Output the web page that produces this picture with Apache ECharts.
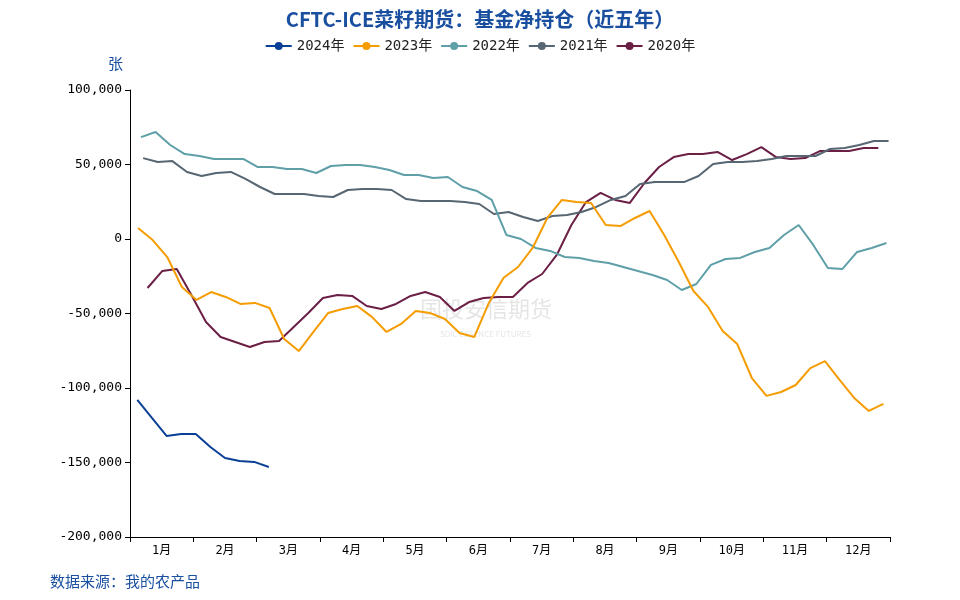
<!DOCTYPE html>
<html>
<head>
<meta charset="utf-8">
<script src="https://cdn.jsdelivr.net/npm/echarts@6/dist/echarts.min.js"></script>
<style>html,body{margin:0;padding:0;background:#fff}#main{width:960px;height:600px}</style>
</head>
<body>
<div id="main"></div>
<script>
const months = ['1月','2月','3月','4月','5月','6月','7月','8月','9月','10月','11月','12月'];
const yearNames = ['2024年','2023年','2022年','2021年','2020年'];
const colors = ['#0a3f96','#f59c00','#5f9fa8','#566672','#6b1f45'];
// first week position (weeks from Jan 1) for each year
const starts = [0.5, 0.55, 0.75, 0.9, 1.2];
const y2024 = [-108000,-120100,-132200,-130800,-130800,-139600,-147000,-149000,-149600,-153000];
const y2023 = [7400,-700,-12100,-32200,-40900,-35600,-38900,-43600,-42900,-46300,-67100,-75200,-62400,-49700,-47000,-45000,-52300,-62400,-57000,-48300,-49700,-53700,-63100,-65800,-42900,-26200,-18800,-6000,14100,26200,24800,24200,9400,8700,14100,18800,2700,-15400,-34900,-45600,-61700,-70500,-93300,-105300,-102700,-98000,-86600,-81900,-94600,-106700,-115400,-110700];
const y2022 = [68400,71800,63100,57000,55700,53700,53700,53700,48300,48300,47000,47000,44300,49000,49700,49700,48300,46300,43000,43000,40900,41600,34900,32200,26200,2700,0,-6000,-8000,-12100,-12700,-14800,-16100,-18800,-21500,-24200,-27500,-34200,-30200,-17400,-13400,-12700,-8700,-6000,2700,9400,-4000,-19500,-20100,-8700,-6000,-2700];
const y2021 = [54300,51700,52300,45000,42300,44300,45000,40300,34900,30200,30200,30200,28900,28200,32900,33600,33600,32900,26800,25500,25500,25500,24800,23500,16800,18100,14800,12100,15400,16100,18100,21500,26200,28900,36900,38200,38200,38200,42300,50300,51700,51700,52300,53700,55700,55700,55700,60400,61100,63100,65800,65800];
const y2020 = [-32900,-21500,-20100,-37600,-55700,-65800,-69100,-72500,-69100,-68400,-59000,-49700,-39600,-37600,-38200,-45000,-47000,-43600,-38200,-35600,-38900,-48300,-42300,-39600,-38900,-38900,-29500,-23500,-10700,9400,24800,30900,26200,24200,37600,48300,55000,57000,57000,58400,53000,57000,61700,55000,53700,54300,59000,59000,59000,61100,61100];
const allData = [y2024, y2023, y2022, y2021, y2020];

const myChart = echarts.init(document.getElementById('main'), null, { renderer: 'canvas' });
const font = '"Noto Sans CJK SC", "Noto Sans", sans-serif';
const mono = '"DejaVu Sans Mono", "Noto Sans CJK SC", monospace';

const series = allData.map((vals, k) => ({
  name: yearNames[k],
  type: 'line',
  xAxisIndex: 1,
  symbol: 'circle',
  symbolSize: 7,
  showSymbol: false,
  lineStyle: { width: 2, color: colors[k] },
  itemStyle: { color: colors[k] },
  z: 10 - k,
  data: vals.map((v, i) => [starts[k] + i, v])
}));

const option = {
  animation: false,
  title: {
    text: 'CFTC-ICE菜籽期货：基金净持仓（近五年）',
    left: 'center',
    top: 4,
    textStyle: { color: '#1a4fa0', fontSize: 20, fontWeight: 'bold', fontFamily: font }
  },
  legend: {
    top: 34,
    left: 'center',
    itemWidth: 26,
    itemHeight: 10,
    itemGap: 8,
    textStyle: { fontSize: 14, color: '#222', fontFamily: mono },
    data: yearNames
  },
  grid: { left: 130, right: 70, top: 90, bottom: 63 },
  graphic: [
    { type: 'text', left: 108, top: 56, style: { text: '张', fill: '#1a4fa0', font: '15px ' + font } },
    { type: 'text', left: 50, top: 574, style: { text: '数据来源：我的农产品', fill: '#1a4fa0', font: '15px ' + font } },
    { type: 'text', left: 420, top: 298, style: { text: '国投安信期货', fill: 'rgba(180,180,180,0.35)', font: '22px ' + font } },
    { type: 'text', left: 440, top: 330, style: { text: 'SDIC ESSENCE FUTURES', fill: 'rgba(180,180,180,0.35)', font: '8px ' + font } }
  ],
  xAxis: [
    {
      type: 'category',
      data: months,
      boundaryGap: true,
      axisLine: { onZero: false, lineStyle: { color: '#000' } },
      axisTick: { show: true, lineStyle: { color: '#000' } },
      axisLabel: { color: '#000', fontSize: 12, fontFamily: mono }
    },
    { type: 'value', min: 0, max: 52, show: false }
  ],
  yAxis: {
    type: 'value',
    min: -200000,
    max: 100000,
    interval: 50000,
    splitLine: { show: false },
    axisLine: { show: true, lineStyle: { color: '#000' } },
    axisTick: { show: true, lineStyle: { color: '#000' } },
    axisLabel: {
      color: '#000', fontSize: 13, fontFamily: mono,
      formatter: v => v.toLocaleString('en-US')
    }
  },
  series: series
};

option && myChart.setOption(option);
</script>
</body>
</html>
